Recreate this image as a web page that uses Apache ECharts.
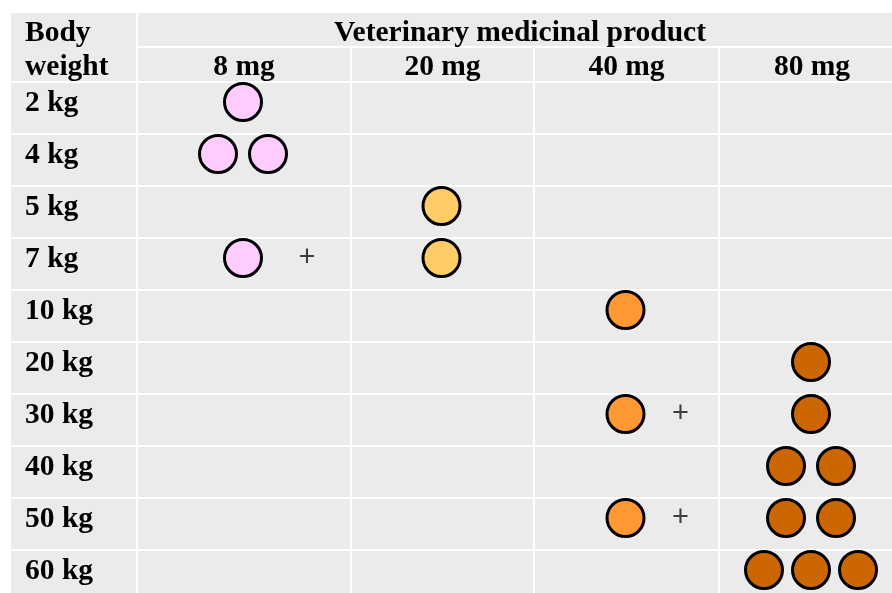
<!DOCTYPE html>
<html>
<head>
<meta charset="utf-8">
<script src="https://cdn.jsdelivr.net/npm/echarts@6/dist/echarts.min.js"></script>
<style>
html,body{margin:0;padding:0;background:#fff;}
#chart{width:892px;height:593px;}
</style>
</head>
<body>
<div id="chart"></div>
<script>
// ---- data ----
const weights = ['2 kg', '4 kg', '5 kg', '7 kg', '10 kg', '20 kg', '30 kg', '40 kg', '50 kg', '60 kg'];
const products = ['8 mg', '20 mg', '40 mg', '80 mg'];
const tablets8mg  = [1, 2, 0, 1, 0, 0, 0, 0, 0, 0];
const tablets20mg = [0, 0, 1, 1, 0, 0, 0, 0, 0, 0];
const tablets40mg = [0, 0, 0, 0, 1, 0, 1, 0, 1, 0];
const tablets80mg = [0, 0, 0, 0, 0, 1, 1, 2, 2, 3];
const productHeader = 'Veterinary medicinal product';
const weightHeader = ['Body', 'weight'];

// ---- layout / style ----
const counts = [tablets8mg, tablets20mg, tablets40mg, tablets80mg];
const colors = ['#FFCCFF', '#FFCC66', '#FF9933', '#CC6600'];
const cols = [
  { left: 11, width: 125 },
  { left: 138, width: 212 },
  { left: 352, width: 181 },
  { left: 535, width: 183 },
  { left: 720, width: 184 }
];
const BG = '#ebebeb';
const FONT = "'Liberation Serif', 'Times New Roman', serif";
const FS = 29.5;
const bodyTop = 82, rowH = 52;
const dy = -6;

const grids = [], xAxes = [], yAxes = [], series = [];
cols.forEach((c, i) => {
  grids.push({ left: c.left, width: c.width, top: bodyTop, height: rowH * weights.length,
    show: true, backgroundColor: BG, borderWidth: 0, outerBoundsMode: 'none', containLabel: false });
  xAxes.push({ type: 'category', gridIndex: i, data: i === 0 ? [''] : [products[i - 1]], show: false });
  yAxes.push({
    type: 'category', gridIndex: i, data: weights, inverse: true,
    axisLine: { show: false }, axisTick: { show: false },
    splitLine: { show: true, interval: 0, lineStyle: { color: '#ffffff', width: 2 } },
    axisLabel: i === 0 ? {
      show: true, inside: true, margin: 14, align: 'left', interval: 0,
      formatter: v => '{w|' + v + '}',
      rich: { w: { fontFamily: FONT, fontWeight: 'bold', fontSize: FS, color: '#000', padding: [0, 0, 10, 0] } }
    } : { show: false }
  });
});

counts.forEach((arr, c) => {
  const pts = [];
  arr.forEach((n, r) => {
    const sp = n === 3 ? 47 : 50;
    for (let k = 0; k < n; k++) {
      pts.push({ value: [products[c], weights[r]], symbolOffset: [(k - (n - 1) / 2) * sp - 1, dy] });
    }
  });
  series.push({
    type: 'scatter', xAxisIndex: c + 1, yAxisIndex: c + 1, data: pts,
    symbol: 'circle', symbolSize: 37,
    itemStyle: { color: colors[c], borderColor: '#000', borderWidth: 3, opacity: 1 },
    emphasis: { disabled: true }, silent: true, z: 3
  });
  // plus signs: tablets in this column combined with a later column
  const plus = [];
  arr.forEach((n, r) => {
    if (n > 0 && counts.slice(c + 1).some(a => a[r] > 0)) {
      plus.push({ value: [products[c], weights[r]] });
    }
  });
  if (plus.length) {
    const dx = Math.round(cols[c + 1].width * 0.3) - 1;
    series.push({
      type: 'scatter', xAxisIndex: c + 1, yAxisIndex: c + 1, data: plus,
      symbol: 'circle', symbolSize: 1,
      itemStyle: { color: 'rgba(0,0,0,0)' },
      label: { show: true, formatter: '+', position: 'inside', offset: [dx, dy],
        fontFamily: "'Liberation Sans', Arial, sans-serif", fontSize: 29, color: '#111' },
      emphasis: { disabled: true }, silent: true, z: 4
    });
  }
});

// header
const graphic = [];
graphic.push({ type: 'rect', shape: { x: 11, y: 13, width: 125, height: 68 }, style: { fill: BG } });
graphic.push({ type: 'rect', shape: { x: 138, y: 13, width: 770, height: 33 }, style: { fill: BG } });
weightHeader.forEach((t, k) => {
  graphic.push({ type: 'text', x: 25, y: k === 0 ? 33 : 67,
    style: { text: t, font: 'bold ' + FS + 'px ' + FONT, fill: '#000', textAlign: 'left', textVerticalAlign: 'middle' } });
});
graphic.push({ type: 'text', x: (138 + 902) / 2, y: 33,
  style: { text: productHeader, font: 'bold ' + FS + 'px ' + FONT, fill: '#000', textAlign: 'center', textVerticalAlign: 'middle' } });
products.forEach((p, k) => {
  const c = cols[k + 1];
  graphic.push({ type: 'rect', shape: { x: c.left, y: 48, width: c.width, height: 33 }, style: { fill: BG } });
  graphic.push({ type: 'text', x: c.left + c.width / 2, y: 67,
    style: { text: p, font: 'bold ' + FS + 'px ' + FONT, fill: '#000', textAlign: 'center', textVerticalAlign: 'middle' } });
});

const chart = echarts.init(document.getElementById('chart'), null, { renderer: 'canvas' });
chart.setOption({
  animation: false,
  backgroundColor: '#ffffff',
  grid: grids, xAxis: xAxes, yAxis: yAxes, series: series,
  graphic: graphic
});
</script>
</body>
</html>
